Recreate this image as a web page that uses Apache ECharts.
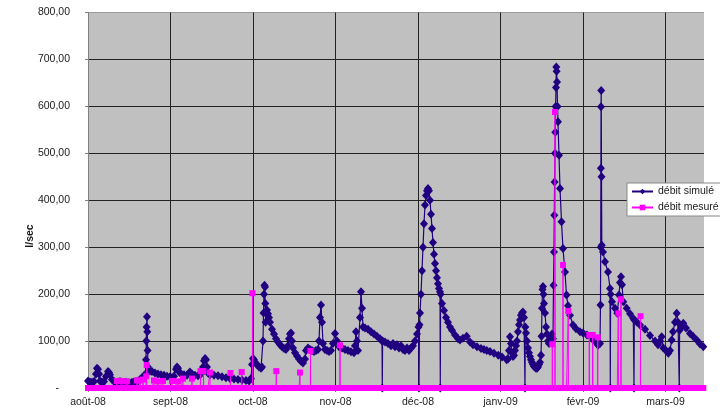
<!DOCTYPE html>
<html>
<head>
<meta charset="utf-8">
<script src="https://cdn.jsdelivr.net/npm/echarts@6/dist/echarts.min.js"></script>
<style>
html,body{margin:0;padding:0;background:#fff;}
#chart{width:720px;height:412px;}
</style>
</head>
<body>
<div id="chart"></div>
<script>
// x values: days counted along the chart axis (0 = août-08 label, 30 days per label)
const tickLabels = ['août-08','sept-08','oct-08','nov-08','déc-08','janv-09','févr-09','mars-09'];

const simDays = [0,0.73,1.45,2.18,2.91,3.27,3.64,4.0,4.36,5.09,5.82,6.55,7.27,7.64,8.0,8.73,9.45,10.18,10.91,11.64,12.36,13.09,13.82,14.55,15.27,16.0,16.73,17.45,18.18,18.91,19.64,20.36,20.91,21.09,21.2,21.31,21.45,21.56,21.67,21.82,22.18,22.55,23.27,24.36,25.45,26.55,27.64,28.73,29.82,30.55,31.27,32.0,32.36,32.73,33.09,33.82,34.91,36.0,36.73,37.09,37.82,38.91,40.0,41.09,41.82,42.18,42.55,42.91,43.27,43.64,44.36,45.82,47.27,48.73,50.18,51.64,53.09,54.55,56.0,57.45,58.55,59.27,59.64,60.0,60.36,60.73,61.45,62.18,62.91,63.27,63.64,63.82,64.0,64.18,64.36,64.47,64.58,64.73,65.09,65.45,65.82,66.18,66.91,67.64,68.36,69.09,69.82,70.55,71.27,72.0,72.73,73.09,73.45,73.82,74.18,74.55,75.27,76.0,76.73,77.45,78.18,78.91,79.27,80.0,80.73,81.45,82.18,82.91,83.64,84.0,84.36,84.73,85.09,85.45,86.18,86.91,87.64,88.36,89.09,89.82,90.55,91.27,92.36,93.45,94.55,95.64,96.73,97.09,97.45,97.82,98.18,98.91,99.27,99.64,100.0,100.73,101.82,102.91,104.0,105.09,106.18,106.91,107.02,107.13,108.0,109.09,110.18,110.91,111.64,112.36,113.09,113.82,114.55,115.27,116.0,116.73,117.45,118.18,118.91,119.64,120.18,120.36,120.55,120.73,121.09,121.45,121.82,122.18,122.55,122.91,123.27,123.64,124.0,124.36,124.73,125.09,125.45,125.82,126.18,126.55,126.91,127.27,127.64,128.0,128.11,128.22,128.73,129.45,130.18,130.91,131.64,132.36,133.45,134.55,135.27,136.36,137.71,138.91,140.0,141.45,142.91,144.0,145.0,146.18,147.64,149.2,150.55,152.25,152.73,153.09,153.45,153.82,154.18,154.55,154.91,155.27,155.64,156.0,156.36,156.73,157.09,157.45,157.82,158.18,158.55,158.91,159.02,159.27,159.64,160.0,160.36,160.73,161.09,161.45,161.82,162.18,162.55,162.91,163.27,163.64,164.0,164.36,164.73,164.91,165.09,165.27,165.45,165.64,165.82,166.18,166.55,166.91,167.27,167.64,168.0,168.36,168.73,169.09,169.27,169.45,169.56,169.67,169.82,169.93,170.04,170.18,170.29,170.4,170.55,170.73,170.91,171.27,171.64,172.18,172.73,173.45,174.0,174.55,175.27,176.36,177.45,178.91,180.0,181.45,183.27,184.36,185.45,186.18,186.36,186.44,186.51,186.55,186.62,186.73,186.84,187.27,188.0,189.09,189.82,189.93,190.04,190.55,191.64,192.47,193.09,193.45,193.82,194.18,194.65,195.89,197.09,198.29,198.55,198.65,199.64,200.73,202.55,204.36,206.18,207.27,208.0,208.62,209.2,210.18,211.02,211.64,212.25,212.73,213.45,214.07,214.55,215.02,215.13,215.64,216.47,217.45,218.91,220.0,221.35,222.55,223.75];

const simFlow = [15,13,12,14,30,42,40,30,15,13,14,25,35,33,28,18,14,12,13,14,12,10,12,11,10,12,13,14,15,18,22,26,30,60,100,130,152,120,80,45,38,36,35,32,30,28,27,25,24,22,25,40,45,42,35,30,28,27,32,34,30,27,26,30,45,58,63,60,45,32,28,27,26,24,22,20,19,18,17,16,15,20,50,63,60,55,50,45,42,45,100,160,200,219,215,180,140,160,166,158,150,140,125,115,105,98,92,88,84,82,90,105,115,117,100,85,75,68,62,57,53,62,80,85,82,80,78,80,82,100,150,177,140,95,82,80,78,80,95,116,100,88,85,82,80,77,75,90,120,100,80,150,205,170,130,128,125,120,115,110,105,100,0,100,98,95,90,95,88,92,85,90,82,80,85,80,85,90,100,115,130,0,135,160,200,250,300,350,390,410,420,425,420,400,370,340,310,285,265,250,235,222,212,205,0,200,180,165,150,140,130,123,113,105,102,106,110,98,92,88,84,82,80,78,74,70,66,60,62,80,109,95,75,67,70,80,90,100,120,135,145,155,160,162,150,0,130,117,100,85,75,67,60,55,50,46,44,42,42,45,50,55,70,110,170,210,216,200,180,160,130,115,100,95,100,110,115,105,219,290,368,439,500,545,600,640,684,675,652,600,567,496,425,354,297,247,198,175,155,134,126,120,117,113,106,99,91,95,177,300,468,599,634,450,304,290,269,247,212,0,200,184,170,159,198,225,237,220,184,170,158,148,0,145,140,134,125,112,100,92,100,109,85,80,74,80,102,120,140,159,140,0,123,130,138,128,116,110,102,94,88];

const measDays = [10.55,12.36,14.18,17.82,18.91,20.0,21.2,21.35,24.0,25.45,27.27,30.55,32.73,34.55,37.82,40.91,42.0,44.36,51.82,55.89,59.82,68.47,77.09,80.91,91.64,168.84,169.82,172.73,174.65,182.29,183.53,185.35,192.84,193.82,200.91];
const measFlow = [15,15,14,16,16,18,25,49,16,14,15,15,14,20,20,36,36,33,32,34,202,36,33,79,91,93,588,262,164,113,113,108,159,189,153];

// the measurements sit in an hourly series that is zero at the neighbouring hours
const sampleStep = 1/24;
const yTicks = {min:0, max:800, interval:100};
const xAxisRange = {min:0, max:224, interval:30};

const simData = simDays.map((d,i)=>[d, simFlow[i]]);
const measMap = new Map(measDays.map((d,i)=>[d, measFlow[i]]));
let zeroDays = simDays.filter(d => !measDays.some(m => Math.abs(m - d) < 0.3));
measDays.forEach(m => { zeroDays.push(m - sampleStep, m + sampleStep); });
const allDays = Array.from(new Set(zeroDays.concat(measDays))).sort((a,b)=>a-b);
const measData = allDays.map(d => [d, measMap.has(d) ? measMap.get(d) : 0]);

const FONT = 'Liberation Sans, Arial, sans-serif';
const chart = echarts.init(document.getElementById('chart'), null, {renderer:'canvas'});
const gridColors = ['#222','#222','#222','#222','#222','#222','#222','#222','#9a9a9a'];

chart.setOption({
  animation:false,
  backgroundColor:'#ffffff',
  grid:{left:88, right:16, top:12.5, bottom:24, show:true, backgroundColor:'#c0c0c0', borderWidth:0},
  xAxis:{
    type:'value', min:xAxisRange.min, max:xAxisRange.max, interval:xAxisRange.interval,
    axisLine:{show:true, lineStyle:{color:'#808080', width:1}},
    axisTick:{show:true, length:4, lineStyle:{color:'#808080'}},
    splitLine:{show:true, showMaxLine:false, lineStyle:{color:'#222', width:1}},
    axisLabel:{
      margin:9, color:'#1a1a1a', fontSize:10.5, fontFamily:FONT, showMaxLabel:false,
      formatter:function(v){ const k = Math.round(v/xAxisRange.interval); return (Math.abs(k*xAxisRange.interval - v) < 1e-6 && tickLabels[k]) ? tickLabels[k] : ''; }
    }
  },
  yAxis:{
    type:'value', min:yTicks.min, max:yTicks.max, interval:yTicks.interval,
    axisLine:{show:true, lineStyle:{color:'#808080', width:1}},
    axisTick:{show:true, length:3, lineStyle:{color:'#808080'}},
    splitLine:{show:true, lineStyle:{color:gridColors, width:1}},
    axisLabel:{
      margin:18, color:'#1a1a1a', fontSize:10.5, fontFamily:FONT,
      formatter:function(v){ return v === 0 ? '{z|-}' : v.toFixed(2).replace('.', ','); },
      rich:{z:{fontSize:10.5, fontFamily:FONT, color:'#1a1a1a', padding:[0,11,0,0]}}
    }
  },
  legend:{
    orient:'vertical', left:627, top:183, itemWidth:21, itemHeight:7, itemGap:5,
    padding:[3,2,3,4], backgroundColor:'#ffffff', borderColor:'#888', borderWidth:1,
    textStyle:{fontSize:10.5, color:'#1a1a1a', fontFamily:FONT},
    data:['débit simulé','débit mesuré']
  },
  graphic:[{
    type:'text', x:30, y:236, rotation:Math.PI/2,
    style:{text:'l/sec', font:'bold 10.5px ' + FONT, fill:'#1a1a1a', textAlign:'center', textVerticalAlign:'middle'}
  }],
  series:[
    {
      name:'débit simulé', type:'line', data:simData, showAllSymbol:true, sampling:null,
      symbol:'diamond', symbolSize:[8,9],
      lineStyle:{color:'#200080', width:1.2},
      itemStyle:{color:'#200080'},
      z:2
    },
    {
      name:'débit mesuré', type:'line', data:measData, showAllSymbol:true,
      symbol:'rect', symbolSize:6,
      lineStyle:{color:'#ff00ff', width:1},
      itemStyle:{color:'#ff00ff'},
      z:3
    }
  ]
});
</script>
</body>
</html>
